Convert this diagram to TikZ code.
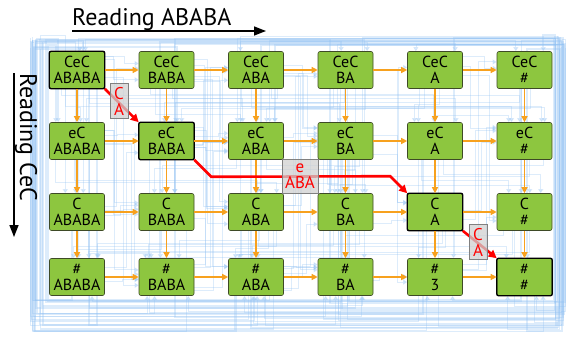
\documentclass[tikz,border=0pt]{standalone}
\usepackage{fontspec}
\setmainfont{PT Sans}
\usetikzlibrary{arrows.meta,positioning,calc,backgrounds}

\definecolor{boxgreen}{HTML}{8DC63F}
\definecolor{boxedge}{HTML}{3E4A26}
\definecolor{flow}{HTML}{F7A11E}
\definecolor{tracecol}{HTML}{8EBFF2}
\definecolor{tagfill}{HTML}{D0D0D0}

\tikzset{
  cell/.style={draw=boxedge, fill=boxgreen, rounded corners=2pt, line width=0.6pt,
    minimum width=55pt, minimum height=37pt, inner sep=0pt, align=center,
    font=\fontsize{16}{16}\selectfont},
  onpath/.style={draw=black, line width=1.3pt, rounded corners=2pt},
  flowarrow/.style={draw=flow, line width=1.3pt, -{Triangle[width=6pt,length=6pt]}},
  match/.style={draw=red, line width=2.6pt, -{Triangle[width=8pt,length=8pt]}},
  tag/.style={draw=gray, fill=tagfill, fill opacity=0.75, text opacity=1, text=red,
    align=center, inner sep=1pt, minimum width=18pt, minimum height=35pt,
    font=\fontsize{17}{16}\selectfont},
  heading/.style={inner sep=0pt, font=\fontsize{24}{24}\selectfont},
  headarrow/.style={draw=black, line width=1.6pt, -{Triangle[width=9pt,length=12pt]}},
  trace line/.style={draw=tracecol, opacity=0.3, line width=1pt,
    -{Triangle[width=5pt,length=4pt]}},
}

\begin{document}
\begin{tikzpicture}[x=1pt,y=-1pt]
\useasboundingbox (0,0) rectangle (568,340);

% states: prefix of CeC (rows) x suffix of ABABA (columns)
\foreach \pre/\y [count=\ri] in {CeC/70,eC/141,C/212,\#/277}
  \foreach \suf [count=\ci] in {ABABA,BABA,ABA,BA,A,\#}
    \node[cell] (n\ri\ci) at ({77+89.5*(\ci-1)},\y) {\pre\\\ifnum\ri\ci=45 3\else\suf\fi};

% states on the matching path
\foreach \nm in {n11,n22,n35,n46}
  \draw[onpath] (\nm.south west) rectangle (\nm.north east);

% orange steps
\foreach \ri in {1,...,4}
  \foreach \ci in {1,...,5}{
    \pgfmathtruncatemacro{\cnext}{\ci+1}
    \draw[flowarrow] (n\ri\ci.east) -- (n\ri\cnext.west);
  }
\foreach \ri in {1,2,3}
  \foreach \ci in {1,...,6}{
    \pgfmathtruncatemacro{\rnext}{\ri+1}
    \draw[flowarrow] (n\ri\ci.south) -- (n\rnext\ci.north);
  }

% matching path
\draw[match] (n11.south east) -- (n22.north west);
\draw[match] (n22.south east) -- ++(17,17) -- ($(n35.north west)+(-17,-17)$) -- (n35.north west);
\draw[match] (n35.south east) -- (n46.north west);

\node[tag] (t1) at (119,101) {C\\A};
\node[tag, minimum width=36pt, minimum height=34pt] (t2) at (300,176) {e\\ABA};
\node[tag] (t3) at (478,242) {C\\A};

% reading directions
\node[heading, anchor=base west] (top) at (72,25) {Reading ABABA};
\coordinate (topend) at (266,31);
\draw[headarrow] (top.west |- topend) -- (topend);

\node[heading, rotate=-90, anchor=base west] (side) at (20,73) {Reading CeC};
\coordinate (sideend) at (14,237);
\draw[headarrow] (sideend |- side.west) -- (sideend);

% faint traces behind the grid
\pgfmathsetseed{11}
\begin{scope}[on background layer]
  % long traces round the border
  \foreach \k in {1,...,32}{
    \pgfmathrandominteger{\ca}{1}{6}
    \pgfmathrandominteger{\ra}{1}{4}
    \pgfmathrandominteger{\cb}{1}{6}
    \pgfmathrandominteger{\rb}{1}{4}
    \pgfmathsetmacro{\oa}{rand*22}
    \pgfmathsetmacro{\ob}{rand*22}
    \pgfmathsetmacro{\yb}{300+rnd*34}
    \pgfmathsetmacro{\yt}{35+rnd*14}
    \pgfmathsetmacro{\xs}{rnd<0.5 ? 30+rnd*18 : 552+rnd*14}
    \pgfmathsetmacro{\lw}{0.6+rnd*1.6}
    \draw[trace line, line width=\lw pt] ($(n\ra\ca.south)+(\oa,0)$) |- (\xs,\yb)
      -- (\xs,\yt) -| ($(n\rb\cb.north)+(\ob,0)$);
  }
  % traces into the last row from below
  \foreach \k in {1,...,18}{
    \pgfmathrandominteger{\cb}{1}{6}
    \pgfmathsetmacro{\ob}{rand*22}
    \pgfmathsetmacro{\yb}{300+rnd*32}
    \pgfmathsetmacro{\yt}{35+rnd*14}
    \pgfmathsetmacro{\xs}{rnd<0.5 ? 30+rnd*18 : 552+rnd*14}
    \draw[trace line] (\xs,\yt) -- (\xs,\yb) -| ($(n4\cb.south)+(\ob,0)$);
  }
  % short traces between columns
  \foreach \k in {1,...,60}{
    \pgfmathrandominteger{\ca}{1}{5}
    \pgfmathrandominteger{\ra}{1}{4}
    \pgfmathrandominteger{\rb}{1}{4}
    \pgfmathtruncatemacro{\cb}{\ca+1}
    \pgfmathsetmacro{\oa}{rand*14}
    \pgfmathsetmacro{\ob}{rand*14}
    \pgfmathsetmacro{\gx}{6+rnd*24}
    \draw[trace line] ($(n\ra\ca.east)+(0,\oa)$) -- ++(\gx,0) |- ($(n\rb\cb.west)+(0,\ob)$);
  }
  % short traces between rows
  \foreach \k in {1,...,50}{
    \pgfmathrandominteger{\ca}{1}{6}
    \pgfmathrandominteger{\cb}{1}{6}
    \pgfmathrandominteger{\ra}{1}{3}
    \pgfmathtruncatemacro{\rb}{\ra+1}
    \pgfmathsetmacro{\oa}{rand*22}
    \pgfmathsetmacro{\ob}{rand*22}
    \pgfmathsetmacro{\gy}{5+rnd*22}
    \draw[trace line] ($(n\ra\ca.south)+(\oa,0)$) -- ++(0,\gy) -| ($(n\rb\cb.north)+(\ob,0)$);
  }
\end{scope}
\end{tikzpicture}
\end{document}
